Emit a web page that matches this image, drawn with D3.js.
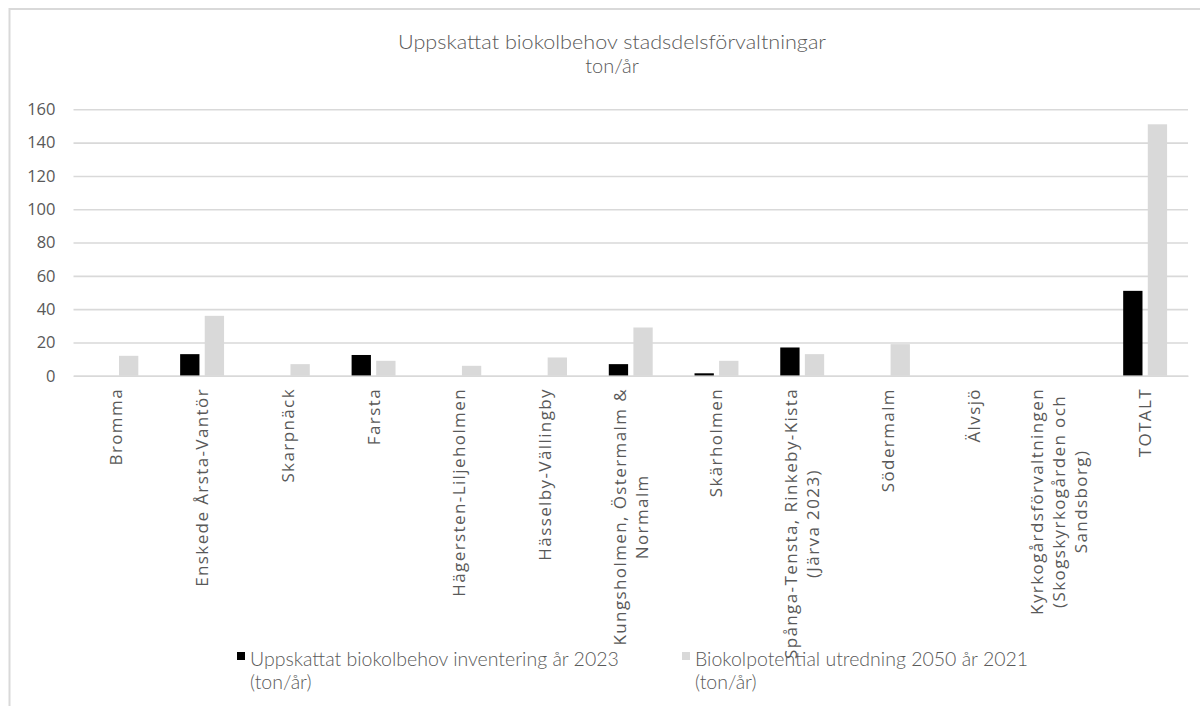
<!DOCTYPE html>
<html>
<head>
<meta charset="utf-8">
<script src="https://cdn.jsdelivr.net/npm/d3@7"></script>
<style>
  body { margin: 0; background: #fff; }
  svg { display: block; }
</style>
</head>
<body>
<svg id="chart" width="1200" height="706"></svg>
<script>
// Category names; "\n" marks where the axis label wraps
const categories = [
  "Bromma",
  "Enskede Årsta-Vantör",
  "Skarpnäck",
  "Farsta",
  "Hägersten-Liljeholmen",
  "Hässelby-Vällingby",
  "Kungsholmen, Östermalm &\nNormalm",
  "Skärholmen",
  "Spånga-Tensta, Rinkeby-Kista\n(Järva 2023)",
  "Södermalm",
  "Älvsjö",
  "Kyrkogårdsförvaltningen\n(Skogskyrkogården och\nSandsborg)",
  "TOTALT"
];

// Series values, ton/år (null = no bar)
const inventory2023 = [null, 13, null, 12.5, null, null, 7, 1.5, 17, null, null, null, 51];
const potential2050 = [12, 36, 7, 9, 6, 11, 29, 9, 13, 19, null, null, 151];

const seriesNames = [
  "Uppskattat biokolbehov inventering år 2023\n(ton/år)",
  "Biokolpotential utredning 2050 år 2021\n(ton/år)"
];
const seriesColors = ["#000000", "#d9d9d9"];

const yTicks = [0, 20, 40, 60, 80, 100, 120, 140, 160];

const titleLines = ["Uppskattat biokolbehov stadsdelsförvaltningar", "ton/år"];

// ---- layout ----
const svg = d3.select("#chart");
const plot = { left: 73.5, right: 1188, top: 109.3, bottom: 375.8 };
const textColor = "#595959";
const gridColor = "#d9d9d9";
const axisFont = "'Open Sans', sans-serif";
const lightFont = "Lato, 'Open Sans', sans-serif";

// outer frame (top and left edges)
svg.append("path")
  .attr("d", "M9.5,706 V9 H1200")
  .attr("fill", "none")
  .attr("stroke", gridColor)
  .attr("stroke-width", 2);

// title
const title = svg.append("g").attr("fill", textColor)
  .style("font-family", lightFont).style("font-weight", 300).style("font-size", "20px");
title.append("text").attr("x", 612).attr("y", 49).attr("text-anchor", "middle")
  .attr("textLength", 428).attr("lengthAdjust", "spacingAndGlyphs").text(titleLines[0]);
title.append("text").attr("x", 612).attr("y", 73).attr("text-anchor", "middle")
  .text(titleLines[1]);

// scales
const x0 = d3.scaleBand().domain(d3.range(categories.length))
  .range([plot.left, plot.right]).paddingInner(0).paddingOuter(0);
const x1 = d3.scaleBand().domain([0, 1]).range([0, x0.bandwidth()])
  .paddingInner(0.215).paddingOuter(0.85);
const y = d3.scaleLinear().domain([0, 160]).range([plot.bottom, plot.top]);

// y axis with gridlines
const yAxis = svg.append("g")
  .attr("transform", `translate(${plot.left},0)`)
  .call(d3.axisLeft(y).tickValues(yTicks).tickSize(-(plot.right - plot.left)).tickPadding(18));
yAxis.select(".domain").remove();
yAxis.selectAll(".tick line").attr("stroke", gridColor).attr("stroke-width", 1.6);
yAxis.selectAll(".tick text")
  .attr("fill", textColor)
  .style("font-family", axisFont)
  .style("font-size", "16.5px");

// bars
const series = [inventory2023, potential2050];
series.forEach((vals, si) => {
  svg.append("g").selectAll("rect")
    .data(vals.map((v, i) => ({ v, i })).filter(d => d.v != null))
    .join("rect")
    .attr("x", d => x0(d.i) + x1(si))
    .attr("width", x1.bandwidth())
    .attr("y", d => y(d.v))
    .attr("height", d => y(0) - y(d.v))
    .attr("fill", seriesColors[si]);
});

// category axis line
const xAxis = svg.append("g")
  .attr("transform", `translate(0,${plot.bottom})`)
  .call(d3.axisBottom(x0).tickSize(0).tickFormat(""));
xAxis.select(".domain").attr("stroke", gridColor).attr("stroke-width", 1.6);

// rotated, wrapped category labels (lines centred on each other, top-aligned)
const lineH = 22;
const labelTop = 388;
categories.forEach((name, i) => {
  const lines = name.split("\n");
  const g = svg.append("g")
    .attr("transform", `translate(${x0(i) + x0.bandwidth() / 2},${labelTop}) rotate(-90)`)
    .attr("fill", textColor)
    .style("font-family", axisFont)
    .style("font-size", "17px")
    .style("letter-spacing", "1.4px");
  const texts = lines.map((ln, k) => g.append("text")
    .attr("y", (k - (lines.length - 1) / 2) * lineH)
    .attr("dy", "0.35em")
    .attr("text-anchor", "middle")
    .text(ln));
  const maxLen = d3.max(texts, t => t.node().getComputedTextLength());
  texts.forEach(t => t.attr("x", -maxLen / 2));
});

// legend
const legendX = [237, 682];
seriesNames.forEach((name, si) => {
  const g = svg.append("g").attr("transform", `translate(${legendX[si]},0)`);
  g.append("rect").attr("x", 0).attr("y", 652).attr("width", 8).attr("height", 8)
    .attr("fill", seriesColors[si]);
  name.split("\n").forEach((ln, k) => {
    g.append("text").attr("x", 13).attr("y", 666 + k * 23)
      .attr("fill", textColor)
      .style("font-family", lightFont).style("font-weight", 300).style("font-size", "19.5px")
      .text(ln);
  });
});
</script>
</body>
</html>
